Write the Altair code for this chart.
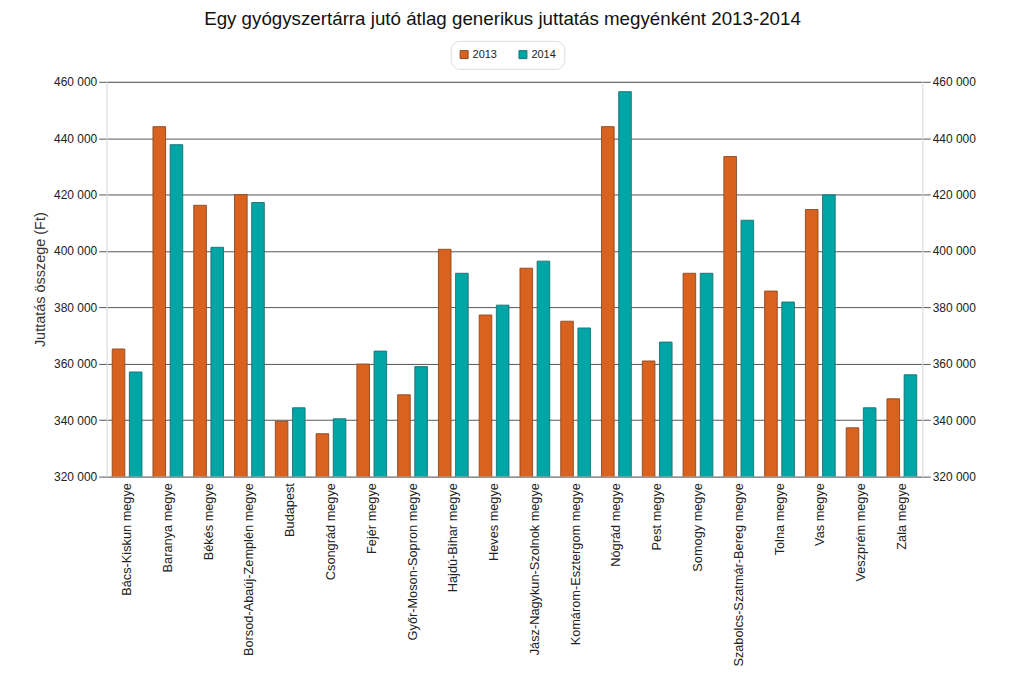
import altair as alt
import pandas as pd

counties = [
    "Bács-Kiskun megye", "Baranya megye", "Békés megye", "Borsod-Abaúj-Zemplén megye",
    "Budapest", "Csongrád megye", "Fejér megye", "Győr-Moson-Sopron megye",
    "Hajdú-Bihar megye", "Heves megye", "Jász-Nagykun-Szolnok megye",
    "Komárom-Esztergom megye", "Nógrád megye", "Pest megye", "Somogy megye",
    "Szabolcs-Szatmár-Bereg megye", "Tolna megye", "Vas megye", "Veszprém megye",
    "Zala megye",
]
values_2013 = [365250, 444100, 416200, 420000, 339600, 335200, 359900, 349000,
               400600, 377300, 393900, 375100, 444100, 361000, 392100, 433500,
               385800, 414700, 337300, 347600]
values_2014 = [357100, 437700, 401300, 417200, 344400, 340500, 364500, 359000,
               392100, 380800, 396400, 372700, 456500, 367700, 392100, 410900,
               381900, 419900, 344400, 356100]
years = ["2013", "2014"]
y_ticks = [320000, 340000, 360000, 380000, 400000, 420000, 440000, 460000]

rows = []
for i, c in enumerate(counties):
    rows.append({"megye": c, "ev": years[0], "ertek": values_2013[i]})
    rows.append({"megye": c, "ev": years[1], "ertek": values_2014[i]})
df = pd.DataFrame(rows)

FONT = "Liberation Sans"
label_expr = "replace(format(datum.value, ','), ',', ' ')"

x_enc = alt.X("megye:N", sort=counties,
              scale=alt.Scale(paddingInner=0.27, paddingOuter=0.135),
              axis=alt.Axis(title=None, labelAngle=270, labelAlign="right",
                            labelBaseline="middle", labelPadding=6,
                            domain=False, ticks=False, labelFontSize=12.8,
                            labelColor="#222", labelFont=FONT, labelLimit=300))
xo_enc = alt.XOffset("ev:N", scale=alt.Scale(paddingInner=0.266, paddingOuter=0))
y_scale = alt.Scale(domain=[320000, 460000], nice=False, zero=False)

bars = alt.Chart(df).mark_bar(strokeWidth=1, strokeOpacity=0.9, clip=True).encode(
    x=x_enc,
    xOffset=xo_enc,
    y=alt.Y("ertek:Q", scale=y_scale,
            axis=alt.Axis(orient="left", values=y_ticks, labelExpr=label_expr,
                          title="Juttatás összege (Ft)", titleFontSize=14.5,
                          titleFontWeight="normal", titleColor="#333",
                          titleFont=FONT, titlePadding=6,
                          grid=True, gridColor="#555", gridWidth=1,
                          tickColor="#555", tickSize=8, labelPadding=2,
                          domainColor="#e4e4e4", labelFontSize=12,
                          labelColor="#222", labelFont=FONT)),
    color=alt.Color("ev:N", scale=alt.Scale(domain=years, range=["#D9621E", "#00A5A5"]),
                    legend=alt.Legend(title=None, orient="none", legendX=345, legendY=-41,
                                      direction="horizontal", symbolType="square",
                                      symbolSize=64, symbolStrokeColor="#333",
                                      symbolStrokeWidth=1, labelFontSize=11,
                                      labelFont=FONT, labelColor="#222", labelOffset=3,
                                      columnPadding=19, padding=8, cornerRadius=9,
                                      strokeColor="#dcdcdc", fillColor="white")),
    stroke=alt.Stroke("ev:N", scale=alt.Scale(domain=years, range=["#8a4a22", "#1c6f6f"]),
                      legend=None),
)

right_axis = alt.Chart(df).mark_bar(opacity=0, clip=True).encode(
    x=x_enc,
    xOffset=xo_enc,
    y=alt.Y("ertek:Q", scale=y_scale,
            axis=alt.Axis(orient="right", values=y_ticks, labelExpr=label_expr,
                          title=None, grid=False, tickColor="#555", tickSize=8,
                          labelPadding=2, domainColor="#e4e4e4", labelFontSize=12,
                          labelColor="#222", labelFont=FONT)),
)

chart = alt.layer(bars, right_axis).resolve_scale(y="shared").resolve_axis(
    y="independent"
).properties(
    width=818, height=396,
    title=alt.TitleParams("Egy gyógyszertárra jutó átlag generikus juttatás megyénként 2013-2014",
                          fontSize=18.8, font=FONT, fontWeight="normal", color="#111",
                          anchor="middle", frame="group", offset=12, dx=-12),
    autosize=alt.AutoSizeParams(type="none"),
    padding={"left": 99, "top": 73, "right": 80, "bottom": 200},
).configure_view(stroke=None).configure(background="white")

chart.save("out.html", embed_options={"renderer": "svg", "actions": False})
